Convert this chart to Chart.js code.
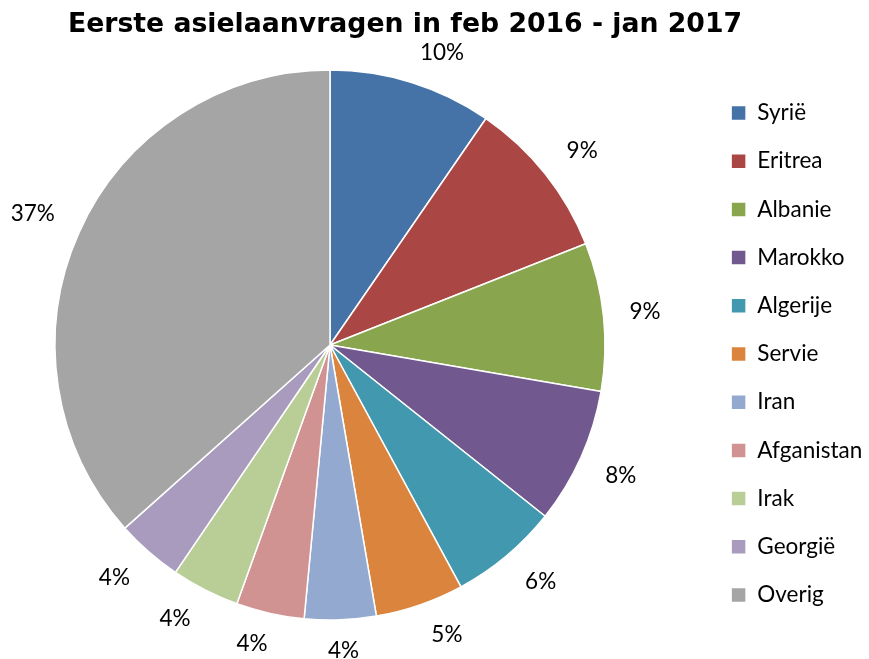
<!DOCTYPE html>
<html>
<head>
<meta charset="utf-8">
<script src="https://cdn.jsdelivr.net/npm/chart.js@4.4.1/dist/chart.umd.min.js"></script>
<style>
  html, body { margin: 0; padding: 0; background: #fff; }
  #wrap { width: 869px; height: 659px; }
</style>
</head>
<body>
<div id="wrap"><canvas id="pieChart"></canvas></div>
<script>
// landen (legenda, met de klok mee vanaf boven)
var labels = ["Syrië", "Eritrea", "Albanie", "Marokko", "Algerije", "Servie", "Iran", "Afganistan", "Irak", "Georgië", "Overig"];
// aandeel in procenten
var values = [9.6, 9.4, 8.7, 8.0, 6.4, 5.2, 4.2, 4.0, 4.0, 3.9, 36.6];
// kleuren per land
var colors = ["#4572A7", "#AA4643", "#89A54E", "#71588F", "#4198AF", "#DB843D", "#93A9CF", "#D19392", "#B9CD96", "#A99BBD", "#A5A5A5"];

var titleText = "Eerste asielaanvragen in feb 2016 - jan 2017";
var labelFont = "Lato";
var labelSize = 22.5;

// titel iets links van het midden, zoals in het origineel
var titlePlugin = {
  id: 'titel',
  afterDraw: function(chart) {
    var ctx = chart.ctx;
    ctx.save();
    ctx.font = 'bold 26.7px "DejaVu Sans"';
    ctx.fillStyle = "#000";
    ctx.textAlign = "center";
    ctx.textBaseline = "middle";
    ctx.fillText(titleText, 405, 25.5);
    ctx.restore();
  }
};

function clamp(v) { return Math.max(-1, Math.min(1, v)); }

// percentages buiten de taart zetten (zoals Excel "buiten einde")
var outsideLabels = {
  id: 'outsideLabels',
  afterDatasetsDraw: function(chart) {
    var ctx = chart.ctx;
    var meta = chart.getDatasetMeta(0);
    var total = values.reduce(function(a, b) { return a + b; }, 0);
    ctx.save();
    ctx.font = labelSize + "px " + labelFont;
    ctx.fillStyle = "#000";
    ctx.textAlign = "center";
    ctx.textBaseline = "middle";
    meta.data.forEach(function(arc, i) {
      var p = arc.getProps(['x', 'y', 'startAngle', 'endAngle', 'outerRadius'], true);
      var mid = (p.startAngle + p.endAngle) / 2;
      var ux = Math.cos(mid), uy = Math.sin(mid);
      var text = Math.round(values[i] / total * 100) + "%";
      var w = ctx.measureText(text).width;
      var rr = p.outerRadius + 21;
      var lx = p.x + ux * rr + clamp(ux * 3) * (w / 2 + 5);
      var ly = p.y + uy * rr + clamp(uy * 3) * 10;
      ctx.fillText(text, lx, ly);
    });
    ctx.restore();
  }
};

var ctx = document.getElementById("pieChart");
var myChart = new Chart(ctx, {
  type: 'pie',
  data: {
    labels: labels,
    datasets: [{
      data: values,
      backgroundColor: colors,
      borderColor: "#fff",
      borderWidth: 1.5
    }]
  },
  options: {
    responsive: true,
    maintainAspectRatio: false,
    animation: false,
    radius: 275,
    layout: {
      padding: { left: 0, right: 0, top: 50, bottom: 19 }
    },
    plugins: {
      title: { display: false },
      // lege ruimte tussen taart en legenda
      subtitle: {
        display: true,
        text: '',
        position: 'right',
        fullSize: false,
        weight: 500,
        font: { size: 10 },
        padding: { top: 16.7, bottom: 16.7 }
      },
      legend: {
        position: 'right',
        fullSize: false,
        maxWidth: 163.6,
        title: { display: true, text: '', padding: 0, font: { size: 15 } },
        labels: {
          boxWidth: 15,
          boxHeight: 15,
          padding: 25.7,
          color: "#000",
          font: { family: labelFont, size: labelSize }
        }
      },
      tooltip: { enabled: false }
    }
  },
  plugins: [outsideLabels, titlePlugin]
});
</script>
</body>
</html>
